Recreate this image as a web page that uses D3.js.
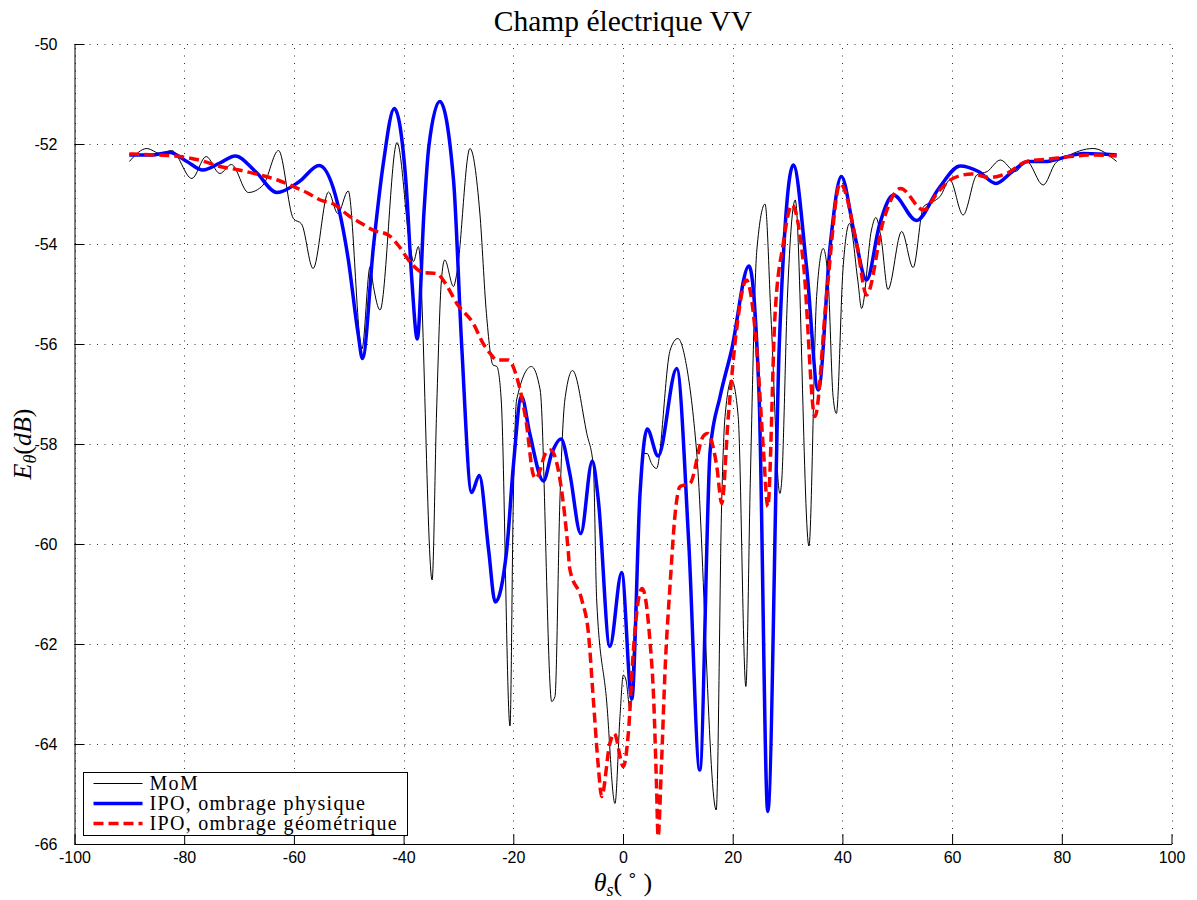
<!DOCTYPE html>
<html>
<head>
<meta charset="utf-8">
<script src="https://cdn.jsdelivr.net/npm/d3@7"></script>
<style>
  html, body { margin: 0; padding: 0; background: #fff; }
  svg { display: block; }
</style>
</head>
<body>
<svg id="chart" width="1197" height="900"></svg>
<script>
// Scattering angle axis ticks and field level axis ticks
const xTicks = [-100, -80, -60, -40, -20, 0, 20, 40, 60, 80, 100];
const yTicks = [-66, -64, -62, -60, -58, -56, -54, -52, -50];

const seriesNames = ["MoM", "IPO, ombrage physique", "IPO, ombrage géométrique"];

// MoM reference solution: [theta_s (deg), E_theta (dB)]
const momData = [
  [-90,-52.35],[-86.8,-52.09],[-84.4,-52.19],[-82.3,-52.13],[-78.6,-52.69],[-76.0,-52.25],
  [-73.5,-52.59],[-71.4,-52.41],[-68.3,-52.97],[-65.6,-52.82],[-62.8,-52.13],[-60.1,-53.49],
  [-58.6,-53.6],[-56.5,-54.49],[-53.7,-52.96],[-52.0,-53.39],[-50.1,-52.94],[-47.6,-56.1],
  [-46.1,-54.45],[-45.5,-54.85],[-44.3,-55.32],[-41.2,-51.97],[-38.8,-54.05],[-38.2,-54.35],
  [-37.3,-54.05],[-34.8,-60.72],[-34.0,-57.4],[-33.1,-54.72],[-32.5,-54.32],[-30.9,-54.85],
  [-30.3,-54.59],[-27.9,-52.09],[-26.1,-53.38],[-24.9,-55.39],[-23.7,-56.42],[-23.0,-56.45],
  [-22.2,-57.12],[-20.6,-63.64],[-20.0,-59.12],[-19.4,-57.12],[-16.7,-56.45],[-15.1,-56.92],
  [-13.0,-63.15],[-12.4,-63.05],[-11.5,-59.12],[-10.6,-57.12],[-9.2,-56.53],[-6.6,-57.79],
  [-5.4,-58.45],[-4.8,-61.12],[-3.0,-63.12],[-1.46,-65.19],[-0.55,-63.45],[0.06,-62.62],
  [0.55,-62.72],[1.3,-63.32],[1.9,-62.12],[3.7,-58.19],[4.4,-58.19],[5.2,-58.39],[6.1,-58.49],
  [8.6,-56.12],[10.0,-55.89],[11.6,-56.45],[13.4,-58.12],[17.0,-65.32],[18.0,-59.12],
  [18.6,-57.45],[19.8,-56.72],[21.0,-57.45],[22.4,-62.85],[23.2,-58.79],[24.4,-54.12],
  [25.9,-53.2],[27.0,-55.5],[28.6,-58.99],[28.9,-58.79],[30.0,-55.0],[31.4,-53.12],
  [33.9,-60.04],[35.3,-55.05],[36.5,-54.09],[37.4,-54.72],[38.3,-57.05],[38.9,-57.39],
  [40.1,-54.52],[41.3,-53.59],[42.8,-54.72],[43.5,-55.29],[45.3,-53.72],[46.1,-53.47],
  [47.1,-53.92],[48.3,-54.91],[50.8,-53.75],[52.9,-54.47],[54.8,-53.25],[56.6,-53.15],
  [57.8,-53.05],[59.6,-52.72],[62.0,-53.42],[64.5,-52.62],[66.4,-52.55],[68.8,-52.32],
  [71.5,-52.55],[73.6,-52.35],[76.6,-52.82],[78.8,-52.39],[80.9,-52.25],[85.7,-52.09],
  [90,-52.35]
];

// IPO with physical shadowing
const ipoPhysData = [
  [-90,-52.22],[-86,-52.22],[-82.6,-52.17],[-79.5,-52.35],[-76.6,-52.52],[-73.5,-52.38],
  [-70.7,-52.24],[-67,-52.55],[-63.1,-52.97],[-59,-52.75],[-55.4,-52.43],[-52.5,-53.0],
  [-50.1,-54.3],[-48.3,-55.79],[-47.5,-56.29],[-45.5,-54.05],[-43.7,-52.39],[-41.7,-51.29],
  [-39.6,-52.72],[-38.5,-54.72],[-37.5,-55.9],[-36.3,-53.39],[-35.4,-52.05],[-33.4,-51.15],
  [-30.9,-52.72],[-29.4,-56.05],[-27.6,-58.97],[-26.2,-58.63],[-24.5,-60.12],[-23.3,-61.16],
  [-21.2,-60.12],[-20.0,-58.45],[-18.5,-57.05],[-17.0,-57.79],[-14.5,-58.74],[-13.0,-58.19],
  [-11.3,-57.9],[-9.7,-58.59],[-7.7,-59.79],[-5.6,-58.34],[-4.5,-59.12],[-2.4,-62.05],
  [-0.24,-60.57],[1.6,-63.1],[3.1,-59.0],[4.4,-57.7],[6.4,-58.24],[9.8,-56.49],[12.0,-60.0],
  [14.0,-64.52],[15.9,-58.12],[17.7,-57.05],[19.8,-56.12],[22.97,-54.44],[24.8,-57.0],
  [26.4,-65.35],[28.5,-56.0],[31.05,-52.42],[33.5,-54.5],[35.6,-56.92],[37.8,-54.0],
  [39.8,-52.65],[42.2,-53.8],[44.4,-54.72],[46.8,-53.6],[49.3,-53.02],[53.5,-53.53],
  [57.5,-52.9],[61.5,-52.44],[64.8,-52.55],[68.0,-52.79],[71.0,-52.55],[73.8,-52.35],
  [77.0,-52.35],[79.7,-52.29],[84.0,-52.19],[90,-52.22]
];

// IPO with geometric shadowing
const ipoGeoData = [
  [-90,-52.2],[-85,-52.22],[-80.8,-52.25],[-77,-52.33],[-73.5,-52.45],[-70,-52.52],
  [-66.2,-52.62],[-63,-52.72],[-60.1,-52.85],[-57.5,-52.98],[-55.2,-53.12],[-52.8,-53.2],
  [-49.8,-53.45],[-47.5,-53.6],[-45.6,-53.72],[-42.8,-53.82],[-40.8,-54.05],[-38.9,-54.35],
  [-36.4,-54.57],[-34.0,-54.59],[-32.3,-54.8],[-30.3,-55.19],[-27.3,-55.59],[-25.5,-55.99],
  [-24.2,-56.19],[-23.0,-56.32],[-20.9,-56.32],[-19.4,-56.65],[-17.6,-57.6],[-16.4,-58.6],
  [-15.9,-58.69],[-13.9,-58.15],[-13.2,-58.12],[-11.2,-58.92],[-10.0,-60.12],[-9.7,-60.5],
  [-7.5,-61.12],[-6.3,-61.79],[-5.4,-63.12],[-4.5,-64.45],[-3.9,-65.05],[-2.4,-63.99],
  [-1.6,-63.79],[0.06,-64.45],[0.97,-63.79],[1.9,-62.12],[2.8,-61.12],[3.5,-60.89],
  [4.9,-61.92],[5.6,-63.12],[6.1,-64.79],[6.4,-65.85],[7.0,-64.45],[7.7,-62.45],
  [8.6,-60.79],[9.5,-59.4],[10.4,-58.85],[12.2,-58.79],[14.6,-57.85],[15.4,-57.79],
  [17.1,-58.45],[18.0,-59.19],[19.2,-57.45],[20.7,-55.72],[22.5,-54.72],[24.4,-56.12],
  [25.6,-58.12],[26.4,-59.25],[27.7,-55.45],[29.2,-54.0],[30.8,-53.22],[32.9,-54.39],
  [35.0,-57.45],[37.1,-55.05],[39.6,-52.79],[42.7,-54.05],[44.4,-55.02],[47.5,-53.52],
  [50.6,-52.89],[54.8,-53.32],[57.5,-52.95],[60.3,-52.68],[63.6,-52.6],[66.9,-52.67],
  [69.9,-52.59],[73.6,-52.35],[77.8,-52.3],[81.5,-52.25],[85.7,-52.22],[90,-52.24]
];

const W = 1197, H = 900;
const margin = { left: 74.5, right: W - 1171.5, top: 44, bottom: H - 844 };

const svg = d3.select("#chart");

const x = d3.scaleLinear().domain([-100, 100]).range([margin.left, W - margin.right]);
const y = d3.scaleLinear().domain([-66, -50]).range([H - margin.bottom, margin.top]);

const tickFont = "'Liberation Sans', Arial, Helvetica, sans-serif";
const serifFont = "'Liberation Serif', 'Times New Roman', serif";
const plainNum = d => String(d);   // hyphen-minus, as in the axis labels

// Dotted grid
const grid = svg.append("g").attr("class", "grid")
  .attr("stroke", "#333").attr("stroke-width", 1).attr("stroke-dasharray", "1,6.5");
grid.selectAll("line.v").data(xTicks).join("line")
  .attr("class", "v")
  .attr("x1", d => Math.round(x(d)) + 0.5).attr("x2", d => Math.round(x(d)) + 0.5)
  .attr("y1", y(-66)).attr("y2", y(-50));
grid.selectAll("line.h").data(yTicks).join("line")
  .attr("class", "h")
  .attr("y1", d => Math.round(y(d)) + 0.5).attr("y2", d => Math.round(y(d)) + 0.5)
  .attr("x1", x(-100)).attr("x2", x(100));

// Axes (ticks drawn inward)
const xAxis = d3.axisBottom(x).tickValues(xTicks).tickFormat(plainNum)
  .tickSizeInner(-10).tickSizeOuter(0).tickPadding(16);
const yAxis = d3.axisLeft(y).tickValues(yTicks).tickFormat(plainNum)
  .tickSizeInner(-10).tickSizeOuter(0).tickPadding(17);

const gx = svg.append("g").attr("transform", `translate(0,${y(-66)})`).call(xAxis);
const gy = svg.append("g").attr("transform", `translate(${x(-100)},0)`).call(yAxis);
[gx, gy].forEach(g => {
  g.selectAll("text").attr("font-family", tickFont).attr("font-size", 16).attr("fill", "#000");
  g.selectAll("line, path").attr("stroke", "#000");
});
gx.selectAll("text").attr("dy", "0.32em").attr("y", 14);

// Curves
const line = d3.line()
  .x(d => x(d[0])).y(d => y(d[1]))
  .curve(d3.curveMonotoneX);

const plot = svg.append("g");
plot.append("path").datum(momData)
  .attr("fill", "none").attr("stroke", "#000").attr("stroke-width", 1)
  .attr("d", line);
plot.append("path").datum(ipoPhysData)
  .attr("fill", "none").attr("stroke", "#0000ff").attr("stroke-width", 3.5)
  .attr("stroke-linejoin", "round")
  .attr("d", line);
plot.append("path").datum(ipoGeoData)
  .attr("fill", "none").attr("stroke", "#ff0000").attr("stroke-width", 3.5)
  .attr("stroke-dasharray", "10,5")
  .attr("d", line);

// Title and axis labels
svg.append("text")
  .attr("x", x(0)).attr("y", 31)
  .attr("text-anchor", "middle")
  .attr("font-family", serifFont).attr("font-size", 29.5)
  .text("Champ électrique VV");

const xl = svg.append("text")
  .attr("x", x(0)).attr("y", 891)
  .attr("text-anchor", "middle")
  .attr("font-family", serifFont).attr("font-size", 26);
xl.append("tspan").attr("font-style", "italic").text("θ");
xl.append("tspan").attr("font-style", "italic").attr("font-size", 18).attr("dy", 5).text("s");
xl.append("tspan").attr("dy", -5).text("(\u2009");
xl.append("tspan").attr("font-size", 17).attr("dy", -11).text("∘");
xl.append("tspan").attr("dy", 11).text("\u2009)");

const yl = svg.append("text")
  .attr("transform", `translate(31,${y(-58)}) rotate(-90)`)
  .attr("text-anchor", "middle")
  .attr("font-family", serifFont).attr("font-size", 26);
yl.append("tspan").attr("font-style", "italic").text("E");
yl.append("tspan").attr("font-style", "italic").attr("font-size", 18).attr("dy", 5).text("θ");
yl.append("tspan").attr("dy", -5).text("(");
yl.append("tspan").attr("font-style", "italic").text("dB");
yl.append("tspan").text(")");

// Legend
const legend = svg.append("g").attr("transform", "translate(83.5,772.5)");
legend.append("rect").attr("width", 324).attr("height", 63)
  .attr("fill", "#fff").attr("stroke", "#000").attr("stroke-width", 1);
const legendStyles = [
  { color: "#000", width: 1, dash: null },
  { color: "#0000ff", width: 3.5, dash: null },
  { color: "#ff0000", width: 3.5, dash: "10,5" }
];
seriesNames.forEach((name, i) => {
  const cy = 11 + i * 20;
  const s = legendStyles[i];
  legend.append("line")
    .attr("x1", 10).attr("x2", 59).attr("y1", cy).attr("y2", cy)
    .attr("stroke", s.color).attr("stroke-width", s.width)
    .attr("stroke-dasharray", s.dash);
  legend.append("text")
    .attr("x", 66).attr("y", cy + 6)
    .attr("font-family", serifFont).attr("font-size", 20)
    .attr("letter-spacing", 1.3)
    .text(name);
});
</script>
</body>
</html>
